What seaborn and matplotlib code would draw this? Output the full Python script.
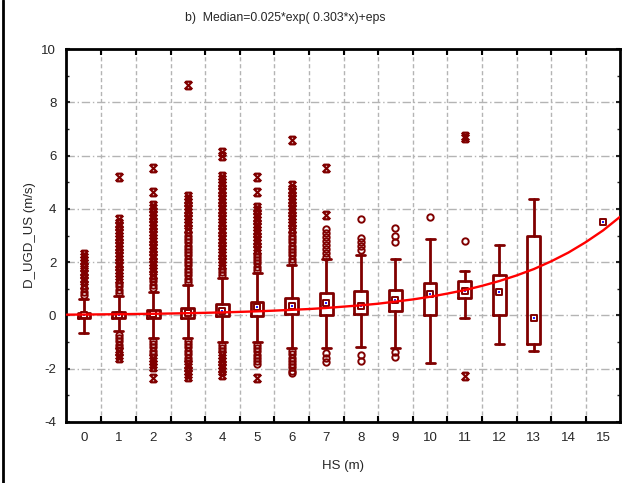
import numpy as np
import pandas as pd
import matplotlib
matplotlib.use("Agg")
import matplotlib.pyplot as plt
from matplotlib.lines import Line2D
from matplotlib.path import Path
import seaborn as sns

# ---------------- data ----------------
categories = list(range(16))
tick_labels = [str(c) for c in categories]

median = [0.00, 0.02, 0.05, 0.08, 0.18, 0.30, 0.37, 0.45, 0.35, 0.58, 0.79, 0.93, 0.89, -0.09, None, 3.49]
q1 = [-0.09, -0.10, -0.10, -0.10, -0.03, -0.03, 0.05, 0.03, 0.04, 0.18, 0.02, 0.64, 0.03, -1.09, None, None]
q3 = [0.08, 0.12, 0.20, 0.29, 0.44, 0.51, 0.67, 0.85, 0.90, 0.97, 1.20, 1.28, 1.50, 3.00, None, None]
whisk_lo = [-0.67, -0.60, -0.85, -0.85, -1.00, -1.00, -1.24, -1.24, -1.18, -1.24, -1.78, -0.11, -1.09, -1.33, None, None]
whisk_hi = [0.62, 0.73, 0.89, 1.14, 1.39, 1.58, 1.90, 2.10, 2.27, 2.12, 2.87, 1.68, 2.65, 4.38, None, None]

# outliers (circles) per category
circle_vals = [
    [0.75, 0.88, 1.02],
    [0.85, 0.97, 1.10, 1.22, -0.72, -0.85, -0.97, -1.10, -1.22],
    [1.02, 1.15, 1.28, 1.40, -0.95, -1.08, -1.20, -1.32, -1.45],
    [1.25, 1.38, 1.50, 1.62, 1.75, 1.88, 2.00, 2.12, 2.25, 2.38, 2.50, 2.62, 2.75, 2.88, 3.00, 3.12,
     -0.95, -1.08, -1.20, -1.32, -1.45, -1.58, -1.70],
    [1.50, 1.62, 1.75, -1.10, -1.22, -1.35],
    [1.70, 1.82, 1.95, 2.08, 2.20, 2.32, -1.10, -1.22, -1.35, -1.48, -1.60, -1.72, -1.83],
    [2.00, 2.12, 2.25, 2.38, 2.50, 2.62, 2.75, 2.88, 3.00, 3.12,
     -1.32, -1.45, -1.58, -1.70, -1.82, -1.95, -2.08, -2.15],
    [2.20, 2.35, 2.50, 2.65, 2.80, 2.95, 3.10, 3.25, -1.40, -1.58, -1.75],
    [2.45, 2.60, 2.75, 2.90, 3.62, -1.48, -1.72],
    [2.75, 3.00, 3.27, -1.38, -1.55],
    [3.71],
    [2.80],
    [], [], [], [],
]

# extremes (asterisks) per category
star_vals = [
    [1.15, 1.28, 1.42, 1.55, 1.68, 1.82, 1.95, 2.08, 2.20, 2.32],
    [1.35, 1.48, 1.60, 1.72, 1.85, 1.98, 2.10, 2.22, 2.35, 2.48, 2.60, 2.72, 2.85, 2.97, 3.10, 3.22,
     3.35, 3.48, 3.62, 5.18, -1.35, -1.47, -1.60],
    [1.52, 1.65, 1.78, 1.90, 2.02, 2.15, 2.28, 2.40, 2.52, 2.65, 2.78, 2.90, 3.02, 3.15, 3.28, 3.40,
     3.52, 3.65, 3.78, 3.90, 4.02, 4.15, 4.62, 5.53, -1.58, -1.70, -1.82, -1.95, -2.35],
    [3.25, 3.38, 3.50, 3.62, 3.75, 3.88, 4.00, 4.12, 4.25, 4.38, 4.50, 8.66,
     -1.82, -1.95, -2.08, -2.20, -2.32],
    [1.88, 2.00, 2.12, 2.25, 2.38, 2.50, 2.62, 2.75, 2.88, 3.00, 3.12, 3.25, 3.38, 3.50, 3.62, 3.75,
     3.88, 4.00, 4.12, 4.25, 4.38, 4.50, 4.62, 4.75, 4.88, 5.00, 5.12, 5.25, 5.97, 6.12,
     -1.48, -1.60, -1.72, -1.85, -1.98, -2.10, -2.22],
    [2.45, 2.58, 2.70, 2.82, 2.95, 3.08, 3.20, 3.32, 3.45, 3.58, 3.70, 3.82, 3.95, 4.08, 4.65, 5.20, -2.35],
    [3.25, 3.38, 3.50, 3.62, 3.75, 3.88, 4.00, 4.12, 4.25, 4.38, 4.50, 4.62, 4.75, 4.88, 6.60],
    [3.77, 5.53],
    [], [], [],
    [6.65, 6.75, -2.28],
    [], [], [], [],
]

# fitted median curve
curve_x = [-0.5, 0, 0.5, 1, 1.5, 2, 2.5, 3, 3.5, 4, 4.5, 5, 5.5, 6, 6.5, 7, 7.5, 8,
           8.5, 9, 9.5, 10, 10.5, 11, 11.5, 12, 12.5, 13, 13.5, 14, 14.5, 15, 15.5]
curve_y = [0.029, 0.034, 0.040, 0.046, 0.054, 0.062, 0.072, 0.084, 0.098, 0.114, 0.133, 0.154,
           0.18, 0.21, 0.24, 0.28, 0.33, 0.38, 0.44, 0.52, 0.60, 0.70, 0.82, 0.95, 1.11, 1.29,
           1.50, 1.74, 2.03, 2.36, 2.75, 3.19, 3.71]

title_text = "b)  Median=0.025*exp( 0.303*x)+eps"
x_label = "HS (m)"
y_label = "D_UGD_US (m/s)"

# ---------------- style ----------------
sns.set_style("white")
plt.rcParams['font.family'] = ['Liberation Sans', 'DejaVu Sans']
plt.rcParams['axes.unicode_minus'] = False
maroon = "#800000"
grid_col = "#b4b4b4"

fig = plt.figure(figsize=(6.3, 4.83), dpi=100)
ax = fig.add_axes([66 / 630, 61 / 483, 554 / 630, 373 / 483])

# boxes
stats = []
pos = []
for c in categories:
    if q1[c] is None:
        continue
    stats.append(dict(med=median[c], q1=q1[c], q3=q3[c], whislo=whisk_lo[c],
                      whishi=whisk_hi[c], fliers=[]))
    pos.append(c)
ax.bxp(stats, positions=pos, widths=0.37, capwidths=0.26, showfliers=False,
       boxprops=dict(color=maroon, lw=2),
       whiskerprops=dict(color=maroon, lw=2),
       capprops=dict(color=maroon, lw=2),
       medianprops=dict(lw=0, alpha=0), zorder=3)

# outliers & extremes
cx, cy, sx, sy = [], [], [], []
for c in categories:
    cx += [c] * len(circle_vals[c]); cy += circle_vals[c]
    sx += [c] * len(star_vals[c]); sy += star_vals[c]

ax.plot(cx, cy, ls='none', marker='o', ms=4.6, mfc='none', mec=maroon, mew=1.4, zorder=4)

star_path = Path([(-1, -1), (1, 1), (-1, 1), (1, -1), (-0.75, 1), (0.75, 1), (-0.75, -1), (0.75, -1)],
                 [Path.MOVETO, Path.LINETO] * 4)
ax.plot(sx, sy, ls='none', marker=star_path, ms=5.5, mfc='none', mec=maroon, mew=1.6, zorder=4)

# median markers
med_df = pd.DataFrame({"x": [c for c in categories if median[c] is not None],
                       "y": [m for m in median if m is not None]})
sns.scatterplot(data=med_df, x="x", y="y", ax=ax, marker='s', s=20, facecolor='white',
                edgecolor=maroon, linewidth=1.4, zorder=5)
sns.scatterplot(data=med_df, x="x", y="y", ax=ax, marker='s', s=3, color='#2020ff',
                linewidth=0, zorder=6)

# fitted curve
sns.lineplot(x=curve_x, y=curve_y, ax=ax, color='#ff0000', lw=1.7, zorder=7)

# axes
ax.set_xlim(-0.52, 15.49)
ax.set_ylim(-4, 10)
ax.set_xticks(categories)
ax.set_xticklabels(tick_labels)
ax.set_xticks(np.arange(0.5, 15, 1), minor=True)
ax.set_yticks(np.arange(-4, 11, 2))
ax.set_yticks(np.arange(-3, 10, 2), minor=True)
ax.tick_params(axis='x', which='major', length=0, pad=7, labelsize=9.5)
ax.tick_params(axis='x', which='minor', direction='in', length=4, width=1.5,
               top=True, bottom=True, color='black')
ax.tick_params(axis='y', which='major', direction='in', length=3, width=1.5,
               left=True, right=True, pad=7, labelsize=9.5)
ax.tick_params(axis='y', which='minor', direction='in', length=2, width=1,
               left=True, right=True)
ax.grid(False)
ax.xaxis.grid(True, which='minor', color=grid_col, lw=1, ls=(0, (3, 2)))
ax.yaxis.grid(True, which='major', color=grid_col, lw=1, ls=(0, (6, 2, 1, 2)))
ax.set_axisbelow(True)
for s in ax.spines.values():
    s.set_linewidth(2)
    s.set_color('black')
    s.set_visible(True)

ax.set_xlabel(x_label, fontsize=9.5, labelpad=12)
ax.set_ylabel(y_label, fontsize=9.5, labelpad=4)
fig.text(285 / 630, 1 - 18 / 483, title_text, ha='center', va='center', fontsize=8.8)

fig.add_artist(Line2D([2.5 / 630, 2.5 / 630], [0, 1], color='black', lw=2))

fig.savefig("out.png", dpi=100)
